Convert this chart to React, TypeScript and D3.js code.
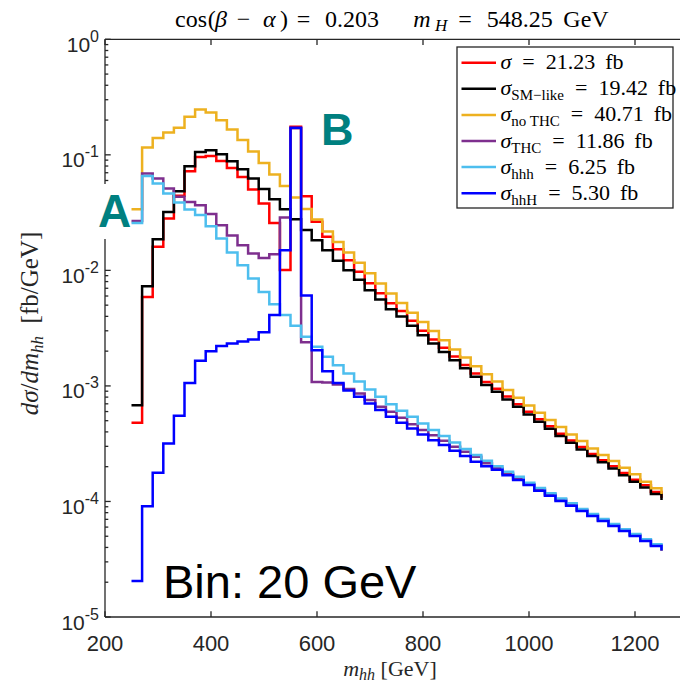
import React from 'react';
import * as d3 from 'd3';

const W = 680;
const H = 685;

// binning: 20 GeV bins starting at 250 GeV (50 bins + end point for stairs)
const binStart = 250;
const binWidth = 20;

const xTicks = [200, 400, 600, 800, 1000, 1200];
const yTickExps = [-5, -4, -3, -2, -1, 0];

const sigmaTotal = [
  0.00048, 0.00587, 0.016, 0.0281, 0.0443, 0.0722, 0.0959, 0.0978, 0.0886, 0.077,
  0.0644, 0.0501, 0.0379, 0.0257, 0.0101, 0.175, 0.0439, 0.0264, 0.0195, 0.01525,
  0.01225, 0.00975, 0.00775, 0.00635, 0.0052, 0.00444, 0.00367, 0.00301, 0.00252, 0.00214,
  0.0018, 0.00152, 0.00128, 0.00108, 0.000944, 0.000808, 0.000695, 0.000597, 0.000514, 0.000447,
  0.000386, 0.000337, 0.000296, 0.000258, 0.000227, 0.000202, 0.000176, 0.000154, 0.000138, 0.000121,
  0.000107,
];

const sigmaSMlike = [
  0.000682, 0.0073, 0.0186, 0.032, 0.0484, 0.0797, 0.106, 0.1096, 0.1012, 0.088,
  0.0751, 0.0624, 0.0507, 0.0413, 0.0338, 0.0277, 0.0224, 0.01825, 0.0149, 0.0121,
  0.01004, 0.0083, 0.00674, 0.0056, 0.00462, 0.00398, 0.00332, 0.00275, 0.00233, 0.00197,
  0.00167, 0.00142, 0.0012, 0.00102, 0.000889, 0.000764, 0.000659, 0.000567, 0.000489, 0.000426,
  0.000368, 0.000322, 0.000282, 0.000247, 0.000218, 0.000193, 0.000169, 0.000148, 0.000132, 0.000116,
  0.000103,
];

const sigmaNoTHC = [
  0.0338, 0.116, 0.14, 0.156, 0.172, 0.214, 0.2465, 0.232, 0.199, 0.1655,
  0.1346, 0.107, 0.0849, 0.0676, 0.0537, 0.0427, 0.034, 0.0276, 0.0217, 0.0176,
  0.0143, 0.01165, 0.00946, 0.0077, 0.00631, 0.00522, 0.00429, 0.00358, 0.00299, 0.00249,
  0.00207, 0.00176, 0.00148, 0.00126, 0.00109, 0.00092, 0.000789, 0.000678, 0.000586, 0.000506,
  0.00044, 0.00038, 0.000333, 0.000288, 0.000252, 0.000224, 0.000196, 0.000172, 0.000148, 0.00013,
  0.000116,
];

const sigmaTHC = [
  0.0268, 0.0689, 0.0624, 0.0511, 0.0433, 0.0391, 0.0366, 0.0307, 0.0246, 0.02,
  0.0165, 0.014, 0.0128, 0.0138, 0.0287, 0.17, 0.00239, 0.00108, 0.00107, 0.00103,
  0.000942, 0.000861, 0.000754, 0.000659, 0.000597, 0.00053, 0.000467, 0.000415, 0.000375, 0.000335,
  0.000298, 0.000269, 0.000244, 0.000214, 0.000195, 0.000174, 0.000159, 0.000141, 0.000127, 0.000115,
  0.000104, 9.4e-5, 8.42e-5, 7.63e-5, 6.87e-5, 6.23e-5, 5.63e-5, 5.12e-5, 4.62e-5, 4.18e-5,
  3.72e-5,
];

const sigmaHHH = [
  0.0257, 0.0656, 0.0564, 0.0463, 0.0387, 0.0336, 0.0301, 0.0241, 0.0189, 0.0143,
  0.0111, 0.0085, 0.00651, 0.0051, 0.0041, 0.00331, 0.00266, 0.00218, 0.00179, 0.00151,
  0.00128, 0.00109, 0.000933, 0.000804, 0.000695, 0.000609, 0.00054, 0.000474, 0.000415, 0.000368,
  0.000324, 0.000284, 0.000252, 0.000225, 0.000202, 0.000181, 0.000164, 0.000145, 0.000131, 0.000118,
  0.000106, 9.63e-5, 8.6e-5, 7.78e-5, 7.05e-5, 6.37e-5, 5.74e-5, 5.22e-5, 4.7e-5, 4.26e-5,
  3.79e-5,
];

const sigmaHHHres = [
  2.05e-5, 9.07e-5, 0.000177, 0.000318, 0.000551, 0.00106, 0.00165, 0.002, 0.00222, 0.00233,
  0.00242, 0.00252, 0.00291, 0.0041, 0.01495, 0.172, 0.00605, 0.00204, 0.00134, 0.00106,
  0.000911, 0.000804, 0.000706, 0.000618, 0.00054, 0.00048, 0.000429, 0.00038, 0.000339, 0.000308,
  0.000275, 0.000247, 0.000221, 0.000202, 0.000188, 0.000169, 0.000153, 0.000139, 0.000124, 0.000112,
  0.000101, 9.18e-5, 8.26e-5, 7.48e-5, 6.76e-5, 6.13e-5, 5.54e-5, 5.02e-5, 4.55e-5, 4.11e-5,
  3.79e-5,
];

const seriesColors = ['#ff0000', '#000000', '#EDB120', '#7E2F8E', '#4DBEEE', '#0000ff'];
const seriesValues = [sigmaTotal, sigmaSMlike, sigmaNoTHC, sigmaTHC, sigmaHHH, sigmaHHHres];
const legendSubs = ['', 'SM\u2212like', 'no THC', 'THC', 'hhh', 'hhH'];
const legendValues = ['21.23', '19.42', '40.71', '11.86', '6.25', '5.30'];

const SERIF = "'Liberation Serif', 'Times New Roman', serif";
const SANS = "'Liberation Sans', Arial, Helvetica, sans-serif";
const AX = '#262626';

export default function App() {
  const x = d3.scaleLinear().domain([200, 1300]).range([105, 688]);
  const y = d3.scaleLog().domain([1e-5, 1]).range([617, 39.3]);
  const top = y(1);
  const bottom = y(1e-5);
  const left = x(200);
  const right = x(1300);

  const line = d3
    .line<[number, number]>()
    .x((d) => x(d[0]))
    .y((d) => y(d[1]))
    .curve(d3.curveStepAfter);

  const paths = seriesValues.map((vals) =>
    line(vals.map((v, i) => [binStart + i * binWidth, v] as [number, number])) || ''
  );

  const minorTicks: number[] = [];
  for (let e = -5; e < 0; e++) {
    for (let m = 2; m <= 9; m++) minorTicks.push(m * Math.pow(10, e));
  }

  const legX = 457;
  const legY = 47;
  const legW = 216;
  const legH = 161;
  const rowY0 = 62.7;
  const rowStep = 26.1;

  return (
    <div style={{ position: 'absolute', left: 0, top: 0 }}>
      <svg width={W} height={H} viewBox={`0 0 ${W} ${H}`} style={{ display: 'block', background: '#fff' }}>
        <rect x={0} y={0} width={W} height={H} fill="#fff" />

        {/* data stairs */}
        {paths.map((p, i) => (
          <path key={i} d={p} fill="none" stroke={seriesColors[i]} strokeWidth={2.5} strokeLinejoin="miter" />
        ))}

        {/* axes box */}
        <g stroke={AX} strokeWidth={1.3} fill="none">
          <line x1={left} x2={right} y1={bottom} y2={bottom} />
          <line x1={left} x2={right} y1={top} y2={top} />
          <line x1={left} x2={left} y1={top} y2={bottom} />
          <line x1={right} x2={right} y1={top} y2={bottom} />
          {xTicks.map((t) => (
            <g key={t}>
              <line x1={x(t)} x2={x(t)} y1={bottom} y2={bottom - 5.7} />
              <line x1={x(t)} x2={x(t)} y1={top} y2={top + 5.7} />
            </g>
          ))}
          {yTickExps.map((e) => (
            <line key={e} x1={left} x2={left + 5.7} y1={y(Math.pow(10, e))} y2={y(Math.pow(10, e))} />
          ))}
          {minorTicks.map((v, i) => (
            <line key={i} x1={left} x2={left + 3.3} y1={y(v)} y2={y(v)} />
          ))}
        </g>

        {/* x tick labels */}
        {xTicks.map((t) => (
          <text key={t} x={x(t)} y={651} textAnchor="middle" fontFamily={SANS} fontSize={22} fill={AX}>
            {t}
          </text>
        ))}

        {/* y tick labels */}
        {yTickExps.map((e) => (
          <text
            key={e}
            x={99}
            y={y(Math.pow(10, e)) + 12.5}
            textAnchor="end"
            fontFamily={SANS}
            fontSize={21}
            fill={AX}
          >
            10
            <tspan fontSize={16} dy={-10}>
              {String(e)}
            </tspan>
          </text>
        ))}

        {/* A label with white background */}
        <rect x={95} y={184} width={36} height={55} fill="#fff" />
        <text x={98} y={227} fontFamily={SANS} fontWeight="bold" fontSize={46} fill="#008080">
          A
        </text>
        <text x={321} y={144.5} fontFamily={SANS} fontWeight="bold" fontSize={45} fill="#008080">
          B
        </text>

        {/* Bin text */}
        <text x={163} y={598} fontFamily={SANS} fontSize={47} fill="#000">
          Bin: 20 GeV
        </text>

        {/* legend */}
        <rect x={legX} y={legY} width={legW} height={legH} fill="#fff" stroke={AX} strokeWidth={1.3} />
        {legendValues.map((val, i) => {
          const cy = rowY0 + i * rowStep;
          const sub = legendSubs[i];
          return (
            <g key={i}>
              <line x1={461.5} x2={496} y1={cy} y2={cy} stroke={seriesColors[i]} strokeWidth={2.5} />
              <text x={500.5} y={cy + 6.5} fontFamily={SERIF} fontSize={22} fill="#000" style={{ whiteSpace: 'pre' }}>
                <tspan fontStyle="italic">σ</tspan>
                {sub ? (
                  <tspan fontSize={15} dy={5}>
                    {sub}
                  </tspan>
                ) : null}
                <tspan dy={sub ? -5 : 0}>{`\u2002=\u2002${val}\u2009 fb`}</tspan>
              </text>
            </g>
          );
        })}

        {/* title */}
        <text y={27} fontFamily={SERIF} fontSize={24} fill="#000" style={{ whiteSpace: 'pre' }}>
          <tspan x={175}>cos</tspan>
          <tspan x={207.7}>(</tspan>
          <tspan x={215} fontStyle="italic">β</tspan>
          <tspan x={236.7}>−</tspan>
          <tspan x={263} fontStyle="italic">α</tspan>
          <tspan x={280}>)</tspan>
          <tspan x={296.7}>=</tspan>
          <tspan x={325}>0.203</tspan>
          <tspan x={413.3} fontStyle="italic">m</tspan>
          <tspan x={435} fontStyle="italic" fontSize={17} dy={4}>H</tspan>
          <tspan x={458.3} dy={-4}>=</tspan>
          <tspan x={486.7}>548.25</tspan>
          <tspan x={563.3}>GeV</tspan>
        </text>

        {/* x label */}
        <text x={390} y={676} textAnchor="middle" fontFamily={SERIF} fontSize={22} fill="#262626" style={{ whiteSpace: 'pre' }}>
          <tspan fontStyle="italic">m</tspan>
          <tspan fontStyle="italic" fontSize={16} dy={4}>hh</tspan>
          <tspan dy={-4}>{' [GeV]'}</tspan>
        </text>

        {/* y label */}
        <text
          transform="translate(38,323.5) rotate(-90)"
          textAnchor="middle"
          fontFamily={SERIF}
          fontSize={25}
          fill="#262626"
          style={{ whiteSpace: 'pre' }}
        >
          <tspan fontStyle="italic">dσ</tspan>
          <tspan>/</tspan>
          <tspan fontStyle="italic">dm</tspan>
          <tspan fontStyle="italic" fontSize={17} dy={5}>hh</tspan>
          <tspan dy={-5}>{'  [fb/GeV]'}</tspan>
        </text>
      </svg>
    </div>
  );
}
